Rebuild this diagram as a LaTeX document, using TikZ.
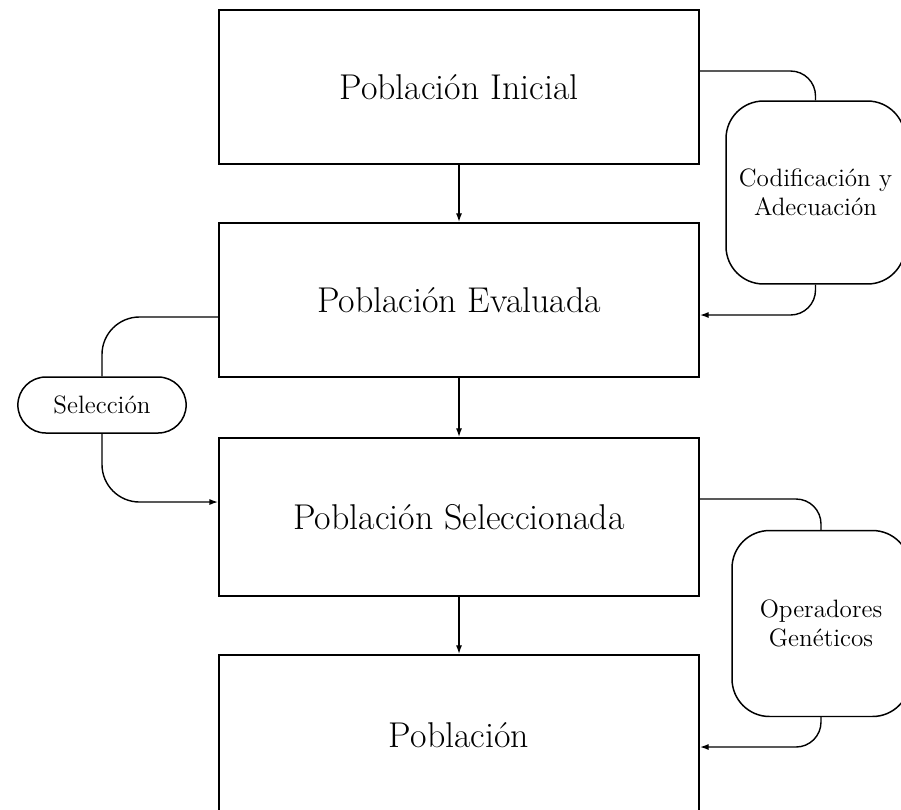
\documentclass[tikz,border=0pt]{standalone}
\usetikzlibrary{arrows.meta,shapes.misc}
\begin{document}
\begin{tikzpicture}[x=0.02cm,y=-0.02cm,
    popbox/.style={draw,line width=1.1pt,minimum width=9.6cm,minimum height=3.08cm,font=\fontsize{20.4}{24}\selectfont},
    opbox/.style={draw,line width=0.85pt,rounded corners=0.75cm,align=center,font=\fontsize{14.3}{16.5}\selectfont},
    flow/.style={line width=0.8pt,-{Latex[length=5pt,width=3.5pt]}}]
      \useasboundingbox (0,0) rectangle (901,809);
      \node[popbox] (ini) at (459,87) {Población Inicial};
      \node[popbox] (eva) at (459,300) {Población Evaluada};
      \node[popbox,minimum height=3.16cm] (sel2) at (459,517) {Población Seleccionada};
      \node[popbox,minimum height=3.2cm] (pob) at (459,735) {Población};
      \node[opbox,minimum width=3.58cm,minimum height=3.66cm] (cod) at (815.5,192.5) {Codificación y\\Adecuación};
      \node[opbox,minimum width=3.56cm,minimum height=3.72cm] (ope) at (821,623.5) {Operadores\\Genéticos};
      \node[draw,line width=0.85pt,rounded rectangle,minimum width=3.6cm,minimum height=1.12cm,font=\fontsize{14.3}{16.5}\selectfont] (sel) at (102,405) {Selección};
      \draw[flow] (ini) -- (eva);
      \draw[flow] (eva) -- (sel2);
      \draw[flow] (sel2) -- (pob);
      \draw[line width=0.8pt,rounded corners=0.5cm] ([yshift=0.32cm]ini.east) -| (cod.north);
      \draw[flow,rounded corners=0.5cm] (cod.south) |- ([yshift=-0.3cm]eva.east);
      \draw[line width=0.8pt,rounded corners=0.75cm] ([yshift=-0.34cm]eva.west) -| (sel.north);
      \draw[flow,rounded corners=0.75cm] (sel.south) |- ([yshift=0.3cm]sel2.west);
      \draw[line width=0.8pt,rounded corners=0.5cm] ([yshift=0.36cm]sel2.east) -| (ope.north);
      \draw[flow,rounded corners=0.5cm] (ope.south) |- ([yshift=-0.24cm]pob.east);
    \end{tikzpicture}
\end{document}
